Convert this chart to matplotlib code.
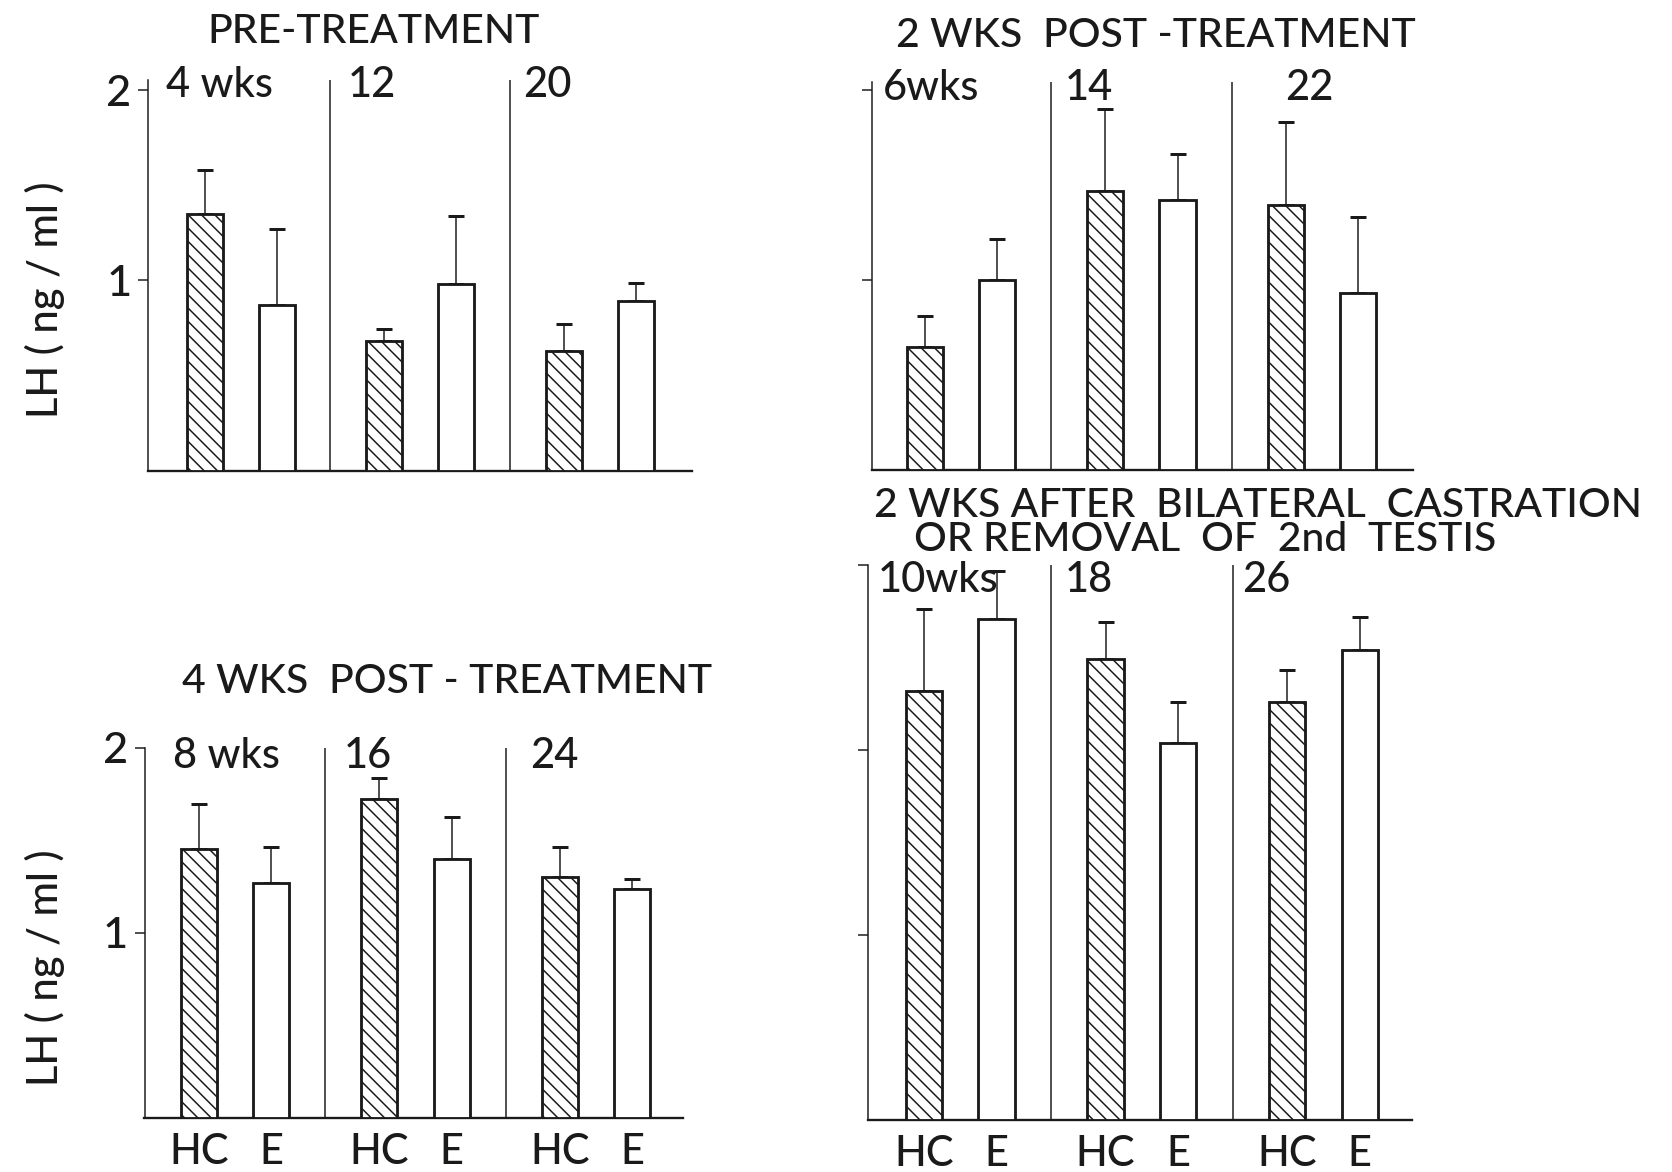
import numpy as np
import matplotlib.pyplot as plt

plt.rcParams['font.family'] = ['Lato', 'DejaVu Sans']
plt.rcParams['font.weight'] = 'medium'
plt.rcParams['hatch.linewidth'] = 0.9

INK = '#1a1a1a'

# LH (ng/ml): bar height and top of the error bar, HC then E, per age group
weeks_pre = ['4 wks', '12', '20']
hc_pre = [1.35, 0.68, 0.63]
hc_pre_top = [1.58, 0.745, 0.77]
e_pre = [0.87, 0.98, 0.89]
e_pre_top = [1.27, 1.34, 0.985]

weeks_2wk = ['6wks', '14', '22']
hc_2wk = [0.645, 1.465, 1.395]
hc_2wk_top = [0.81, 1.90, 1.83]
e_2wk = [1.0, 1.42, 0.93]
e_2wk_top = [1.215, 1.66, 1.33]

weeks_4wk = ['8 wks', '16', '24']
hc_4wk = [1.45, 1.72, 1.30]
hc_4wk_top = [1.695, 1.835, 1.46]
e_4wk = [1.27, 1.40, 1.235]
e_4wk_top = [1.46, 1.625, 1.29]

weeks_cast = ['10wks', '18', '26']
hc_cast = [2.32, 2.49, 2.26]
hc_cast_top = [2.76, 2.69, 2.43]
e_cast = [2.71, 2.04, 2.54]
e_cast_top = [2.97, 2.26, 2.72]

groups = ['HC', 'E']

W, H, DPI = 1672, 1172, 120
fig = plt.figure(figsize=(W / DPI, H / DPI), dpi=DPI)
fig.patch.set_facecolor('white')


def box(left, right, top, bottom):
    return [left / W, 1 - bottom / H, (right - left) / W, (bottom - top) / H]


def ftext(x, y, s, **kw):
    kw.setdefault('color', INK)
    fig.text(x / W, 1 - y / H, s, **kw)


def panel(rect, xlim, ylim, hc, hc_top, e, e_top, yticks, show_ylab, show_xlab):
    ax = fig.add_axes(rect)
    ax.patch.set_visible(False)
    x_hc = np.arange(3) * 2.5
    x_e = x_hc + 1
    hc, hc_top, e, e_top = map(np.array, (hc, hc_top, e, e_top))

    ax.errorbar(x_hc, hc, yerr=[np.zeros(3), hc_top - hc], fmt='none',
                ecolor=INK, elinewidth=0.9, capsize=4.8, capthick=1.8, zorder=2)
    ax.errorbar(x_e, e, yerr=[np.zeros(3), e_top - e], fmt='none',
                ecolor=INK, elinewidth=0.9, capsize=4.8, capthick=1.8, zorder=2)
    ax.bar(x_hc, hc, width=0.5, facecolor='white', edgecolor=INK,
           linewidth=1.7, hatch='\\\\\\', zorder=3)
    ax.bar(x_e, e, width=0.5, facecolor='white', edgecolor=INK,
           linewidth=1.7, zorder=3)

    ax.vlines([1.75, 4.25], 0, ylim[1], color=INK, lw=0.9)
    ax.set_xlim(*xlim)
    ax.set_ylim(*ylim)
    for side in ['top', 'right']:
        ax.spines[side].set_visible(False)
    ax.spines['left'].set_linewidth(0.9)
    ax.spines['bottom'].set_linewidth(1.4)
    ax.spines['left'].set_color(INK)
    ax.spines['bottom'].set_color(INK)

    ax.set_yticks(yticks)
    ax.tick_params(axis='y', direction='out', length=6, width=0.9, pad=4,
                   labelsize=26, colors=INK, labelleft=show_ylab)
    if show_ylab:
        ax.set_yticklabels([str(int(t)) for t in yticks])
    if show_xlab:
        ax.set_xticks(np.concatenate([x_hc, x_e]))
        ax.set_xticklabels(groups[:1] * 3 + groups[1:] * 3)
        ax.tick_params(axis='x', length=0, pad=9, labelsize=25, colors=INK)
    else:
        ax.set_xticks([])
    return ax


panel(box(148, 691.7, 80, 470.5), (-0.79, 6.78), (0, 2.055),
      hc_pre, hc_pre_top, e_pre, e_pre_top, [1, 2], True, False)
panel(box(872, 1413, 82, 470), (-0.73, 6.76), (0, 2.04),
      hc_2wk, hc_2wk_top, e_2wk, e_2wk_top, [1, 2], False, False)
panel(box(144.5, 683, 747.5, 1117.5), (-0.75, 6.70), (0, 2.0),
      hc_4wk, hc_4wk_top, e_4wk, e_4wk_top, [1, 2], True, True)
panel(box(868, 1412, 565, 1120), (-0.77, 6.72), (0, 3.0),
      hc_cast, hc_cast_top, e_cast, e_cast_top, [1, 2, 3], False, True)

# panel titles
tkw = dict(va='baseline', fontsize=24.5)
ftext(373.5, 42.7, 'PRE-TREATMENT', ha='center', **tkw)
ftext(1156, 47, '2 WKS  POST -TREATMENT', ha='center', **tkw)
ftext(447, 693, '4 WKS  POST - TREATMENT', ha='center', **tkw)
ftext(874, 517, '2 WKS AFTER  BILATERAL  CASTRATION', ha='left', **tkw)
ftext(914, 551, 'OR REMOVAL  OF  2nd  TESTIS', ha='left', **tkw)

# age labels at the top of each group
gkw = dict(ha='left', va='baseline', fontsize=25)
for x, s in zip([166, 348, 523], weeks_pre):
    ftext(x, 97, s, **gkw)
for x, s in zip([883, 1065, 1285], weeks_2wk):
    ftext(x, 100, s, **gkw)
for x, s in zip([173, 344, 530], weeks_4wk):
    ftext(x, 768, s, **gkw)
for x, s in zip([877.5, 1065, 1242], weeks_cast):
    ftext(x, 592, s, **gkw)

# y axis titles
ftext(45, 300, 'LH ( ng / ml )', rotation=90, ha='center', va='center', fontsize=25)
ftext(45, 968, 'LH ( ng / ml )', rotation=90, ha='center', va='center', fontsize=25)

fig.savefig('out.png', dpi=DPI, facecolor='white')
